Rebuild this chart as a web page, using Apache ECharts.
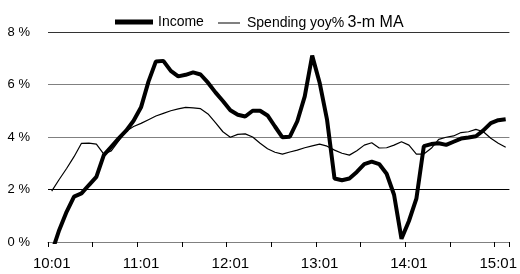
<!DOCTYPE html>
<html>
<head>
<meta charset="utf-8">
<script src="https://cdn.jsdelivr.net/npm/echarts@6/dist/echarts.min.js"></script>
<style>
html, body { margin: 0; padding: 0; background: #fff; }
#chart { width: 520px; height: 274px; }
</style>
</head>
<body>
<div id="chart"></div>
<script>
// monthly, 2010-01 .. 2015-02
var startYear = 10
var monthCount = 62

var income = [
	-0.4, 0.45, 1.15, 1.73, 1.85, 2.17, 2.48, 3.31, 3.63, 3.95, 4.24, 4.62,
	5.13, 6.11, 6.88, 6.9, 6.52, 6.31, 6.37, 6.46, 6.38, 6.07, 5.7, 5.37,
	5.02, 4.85, 4.78, 5.0, 5.0, 4.82, 4.4, 3.99, 4.01, 4.6, 5.55, 7.1,
	6.07, 4.65, 2.42, 2.35, 2.42, 2.67, 2.97, 3.06, 2.97, 2.6, 1.8, 0.12,
	0.8, 1.65, 3.65, 3.73, 3.76, 3.7, 3.82, 3.94, 3.98, 4.03, 4.25, 4.53,
	4.64, 4.68
]

var spending = [
	1.94, 2.38, 2.8, 3.25, 3.76, 3.77, 3.73, 3.35, 3.47, 3.85, 4.22, 4.4,
	4.52, 4.66, 4.8, 4.9, 5.0, 5.07, 5.13, 5.11, 5.08, 4.88, 4.55, 4.2,
	3.99, 4.1, 4.12, 4.0, 3.76, 3.55, 3.42, 3.35, 3.43, 3.5, 3.59, 3.66,
	3.73, 3.65, 3.5, 3.38, 3.31, 3.48, 3.69, 3.78, 3.58, 3.59, 3.69, 3.82,
	3.69, 3.35, 3.35, 3.57, 3.91, 3.99, 4.04, 4.17, 4.2, 4.29, 4.2, 3.95,
	3.76, 3.61
]

var yTicks = [0, 2, 4, 6, 8]

var months = []
for (var i = 0; i < monthCount; i++) {
	var y = startYear + Math.floor(i / 12)
	var m = (i % 12) + 1
	months.push(y + ':' + (m < 10 ? '0' + m : m))
}

var chart = echarts.init(document.getElementById('chart'), null, { renderer: 'canvas' })

var font = 'Arial, "Liberation Sans", sans-serif'

var option = {
	animation: false,
	backgroundColor: '#fff',
	textStyle: { fontFamily: font, color: '#000' },
	legend: [
		{
			data: [{ name: 'Income', icon: 'rect' }],
			left: 110,
			top: 10,
			itemWidth: 38,
			itemHeight: 5,
			itemGap: 5,
			textStyle: { fontFamily: font, fontSize: 14, color: '#000' },
			selectedMode: false
		},
		{
			data: [{ name: 'Spending yoy% 3-m MA', icon: 'rect' }],
			left: 213,
			top: 10,
			itemWidth: 22,
			itemHeight: 1,
			itemGap: 5,
			formatter: function () { return '{a|Spending yoy%} {b|3-m MA}' },
			textStyle: {
				fontFamily: font, color: '#000', padding: [0, 0, 0, 2],
				rich: {
					a: { fontFamily: font, fontSize: 14, color: '#000' },
					b: { fontFamily: font, fontSize: 16, color: '#000' }
				}
			},
			selectedMode: false
		}
	],
	grid: { left: 48, right: 9, top: 32, bottom: 32, containLabel: false },
	xAxis: {
		type: 'category',
		data: months,
		boundaryGap: true,
		axisLine: { show: true, lineStyle: { color: '#808080', width: 1 } },
		axisTick: { show: true, interval: 5, length: 5, lineStyle: { color: '#000' } },
		axisLabel: { interval: 11, fontSize: 15, color: '#000', margin: 14, fontFamily: font },
		splitLine: { show: false }
	},
	yAxis: {
		type: 'value',
		min: yTicks[0],
		max: yTicks[yTicks.length - 1],
		interval: 2,
		axisLine: { show: false },
		axisTick: { show: false },
		axisLabel: { formatter: '{value} %', fontSize: 13, color: '#000', margin: 18, fontFamily: font },
		splitLine: { show: true, lineStyle: { color: ['#808080', '#000', '#808080', '#808080', '#333'], width: 1 } }
	},
	series: [
		{
			name: 'Income',
			type: 'line',
			data: income,
			symbol: 'none',
			clip: true,
			lineStyle: { color: '#000', width: 4 },
			itemStyle: { color: '#000' },
			z: 3
		},
		{
			name: 'Spending yoy% 3-m MA',
			type: 'line',
			data: spending,
			symbol: 'none',
			lineStyle: { color: '#000', width: 1.2 },
			itemStyle: { color: '#000' },
			z: 2
		}
	]
}

chart.setOption(option, true)
</script>
</body>
</html>
